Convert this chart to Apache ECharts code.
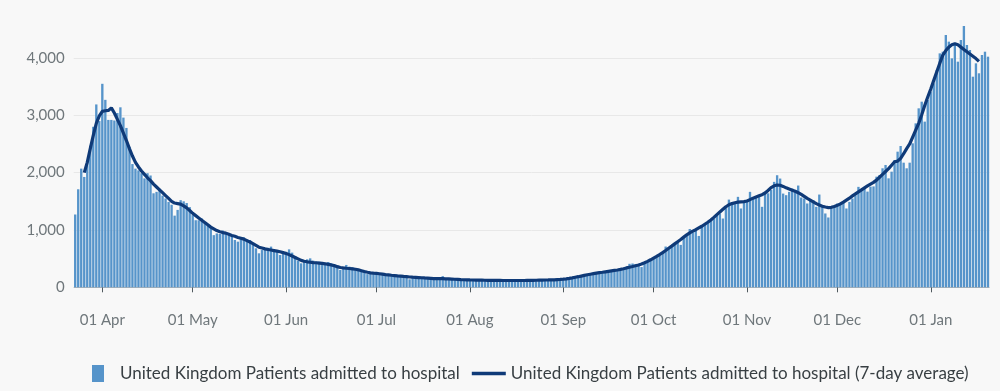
<!DOCTYPE html>
<html>
<head>
<meta charset="utf-8">
<script src="https://cdn.jsdelivr.net/npm/echarts@6/dist/echarts.min.js"></script>
<style>
html,body{margin:0;padding:0;background:#f8f8f8;}
#chart{width:1000px;height:391px;}
</style>
</head>
<body>
<div id="chart"></div>
<script>
// Daily dates start (categories built from this start, one per value)
const startDate = '2020-03-23';
const monthNames = ['Jan','Feb','Mar','Apr','May','Jun','Jul','Aug','Sep','Oct','Nov','Dec'];
const yTicks = [0, 1000, 2000, 3000, 4000];
const seriesNames = ['United Kingdom Patients admitted to hospital', 'United Kingdom Patients admitted to hospital (7-day average)'];

// Daily admissions (bars)
const admissions = [
1270,1710,2070,1925,2190,2470,2800,3190,2900,3550,
3270,2920,2920,2910,3040,3140,2960,2780,2450,2150,
2070,2040,1990,1900,1990,1950,1640,1665,1720,1600,
1550,1490,1440,1250,1350,1520,1500,1470,1400,1260,
1170,1170,1200,1140,1100,1060,910,940,930,990,
950,930,895,825,796,842,870,836,825,767,
680,593,650,680,690,710,650,620,564,580,
620,662,605,546,465,418,447,488,505,465,
447,447,418,407,440,418,390,372,302,330,
390,360,350,330,302,290,273,230,250,235,
240,235,230,222,215,210,205,198,195,190,
185,140,178,172,170,165,162,158,155,150,
148,145,195,142,138,136,134,132,130,128,
130,127,125,128,124,122,125,121,120,123,
119,118,121,117,120,118,116,119,117,121,
118,122,124,120,126,123,128,125,130,127,
132,135,138,142,150,160,168,178,190,200,
210,222,235,245,252,260,268,275,285,292,
300,310,335,360,410,415,405,390,353,430,
460,490,520,550,585,620,711,690,705,740,
780,740,870,920,1017,960,990,896,1060,1100,
1120,1170,1200,1260,1290,1200,1380,1530,1462,1470,
1578,1375,1480,1500,1665,1540,1560,1580,1404,1630,
1640,1700,1839,1955,1897,1635,1607,1665,1723,1694,
1775,1566,1549,1462,1520,1520,1404,1618,1404,1288,
1218,1404,1433,1462,1473,1473,1375,1490,1549,1607,
1752,1698,1727,1669,1756,1760,1930,1959,2076,2134,
1901,2017,2221,2366,2465,2174,2076,2174,2512,2860,
3122,3238,2890,3267,3413,3558,3790,4081,4110,4401,
4285,3994,4256,3936,4314,4558,4227,4140,3674,3907,
3733,4052,4110,4023
];

// 7-day average (line)
const average7 = [
null,null,null,2000,2180,2420,2650,2860,2990,3070,
3080,3085,3130,3040,2930,2820,2690,2560,2420,2290,
2180,2100,2030,1970,1910,1860,1800,1750,1700,1650,
1600,1550,1500,1470,1460,1450,1420,1385,1340,1290,
1250,1210,1170,1130,1090,1050,1020,990,970,955,
945,925,905,890,870,855,840,815,790,760,
730,700,685,670,660,650,640,630,620,605,
590,570,545,520,495,470,455,445,438,432,
428,422,416,410,400,390,378,360,345,338,
332,328,322,315,305,290,275,262,252,246,
242,236,229,222,216,210,205,200,196,190,
185,180,176,173,170,167,163,160,156,152,
150,150,150,148,146,143,140,137,134,132,
130,128,127,126,125,124,123,122,121,121,
120,120,119,119,119,119,119,119,119,119,
120,121,122,123,124,125,127,128,130,131,
134,137,142,148,156,165,175,185,196,207,
218,228,238,247,255,262,270,278,286,294,
302,312,324,338,350,362,375,390,407,428,
452,480,510,540,572,606,642,680,718,757,
796,835,875,915,950,980,1005,1035,1065,1100,
1135,1175,1220,1268,1315,1360,1405,1440,1460,1475,
1485,1490,1495,1505,1530,1555,1575,1595,1615,1645,
1690,1740,1770,1785,1780,1760,1735,1715,1695,1675,
1650,1620,1585,1550,1520,1490,1460,1435,1415,1400,
1390,1395,1410,1430,1455,1485,1520,1555,1595,1630,
1665,1700,1735,1770,1800,1830,1870,1920,1970,2020,
2070,2130,2190,2200,2250,2330,2420,2500,2620,2740,
2860,3010,3170,3320,3460,3610,3760,3910,4050,4130,
4190,4230,4250,4230,4190,4150,4110,4070,4030,3990,
3940,null,null,null
];

const dates = [];
{
  const d = new Date(startDate + 'T00:00:00Z');
  for (let k = 0; k < admissions.length; k++) {
    dates.push(d.toISOString().slice(0, 10));
    d.setUTCDate(d.getUTCDate() + 1);
  }
}
const isFirst = (idx, val) => val.slice(8) === '01';
const fmtDate = v => v.slice(8) + ' ' + monthNames[parseInt(v.slice(5, 7), 10) - 1];
const fmtNum = v => String(v).replace(/\B(?=(\d{3})+(?!\d))/g, ',');

const FONT = 'Lato, "Liberation Sans", sans-serif';
const chart = echarts.init(document.getElementById('chart'), null, {renderer: 'canvas'});
chart.setOption({
  backgroundColor: '#f8f8f8',
  animation: false,
  textStyle: {fontFamily: FONT},
  grid: {left: 73.7, right: 10.5, top: 58, bottom: 103.7, containLabel: false},
  legend: {
    left: 87, top: 360,
    itemWidth: 34, itemHeight: 17, itemGap: 12,
    textStyle: {fontSize: 17, color: '#383f43', fontFamily: FONT},
    data: [
      {name: seriesNames[0], icon: 'path://M0,0H12V17H0Z'},
      {name: seriesNames[1], icon: 'path://M0,0H34V3.5H0Z'}
    ]
  },
  xAxis: {
    type: 'category',
    data: dates,
    boundaryGap: true,
    offset: 9,
    axisLine: {show: false},
    axisTick: {show: true, interval: isFirst, alignWithLabel: true, length: 5, lineStyle: {color: '#505a5f', width: 1}},
    axisLabel: {interval: isFirst, formatter: fmtDate, color: '#6f777b', fontSize: 15, margin: 16, fontFamily: FONT},
    splitLine: {show: false}
  },
  yAxis: {
    type: 'value',
    min: yTicks[0], max: yTicks[yTicks.length - 1], interval: 1000,
    axisLine: {show: false},
    axisTick: {show: false},
    axisLabel: {formatter: fmtNum, color: '#6f777b', fontSize: 15, margin: 9, fontFamily: FONT},
    splitLine: {show: true, lineStyle: {color: ['#b1b4b6', '#e8e8e8', '#e8e8e8', '#e8e8e8', '#e8e8e8'], width: 1}}
  },
  series: [
    {
      name: seriesNames[0],
      type: 'bar',
      data: admissions,
      barWidth: '78%',
      clip: false,
      itemStyle: {color: '#5694ca'},
      z: 2
    },
    {
      name: seriesNames[1],
      type: 'line',
      data: average7,
      symbol: 'none',
      clip: false,
      connectNulls: false,
      lineStyle: {color: '#0f3a78', width: 3.2},
      itemStyle: {color: '#0f3a78'},
      z: 3
    }
  ]
});
</script>
</body>
</html>
